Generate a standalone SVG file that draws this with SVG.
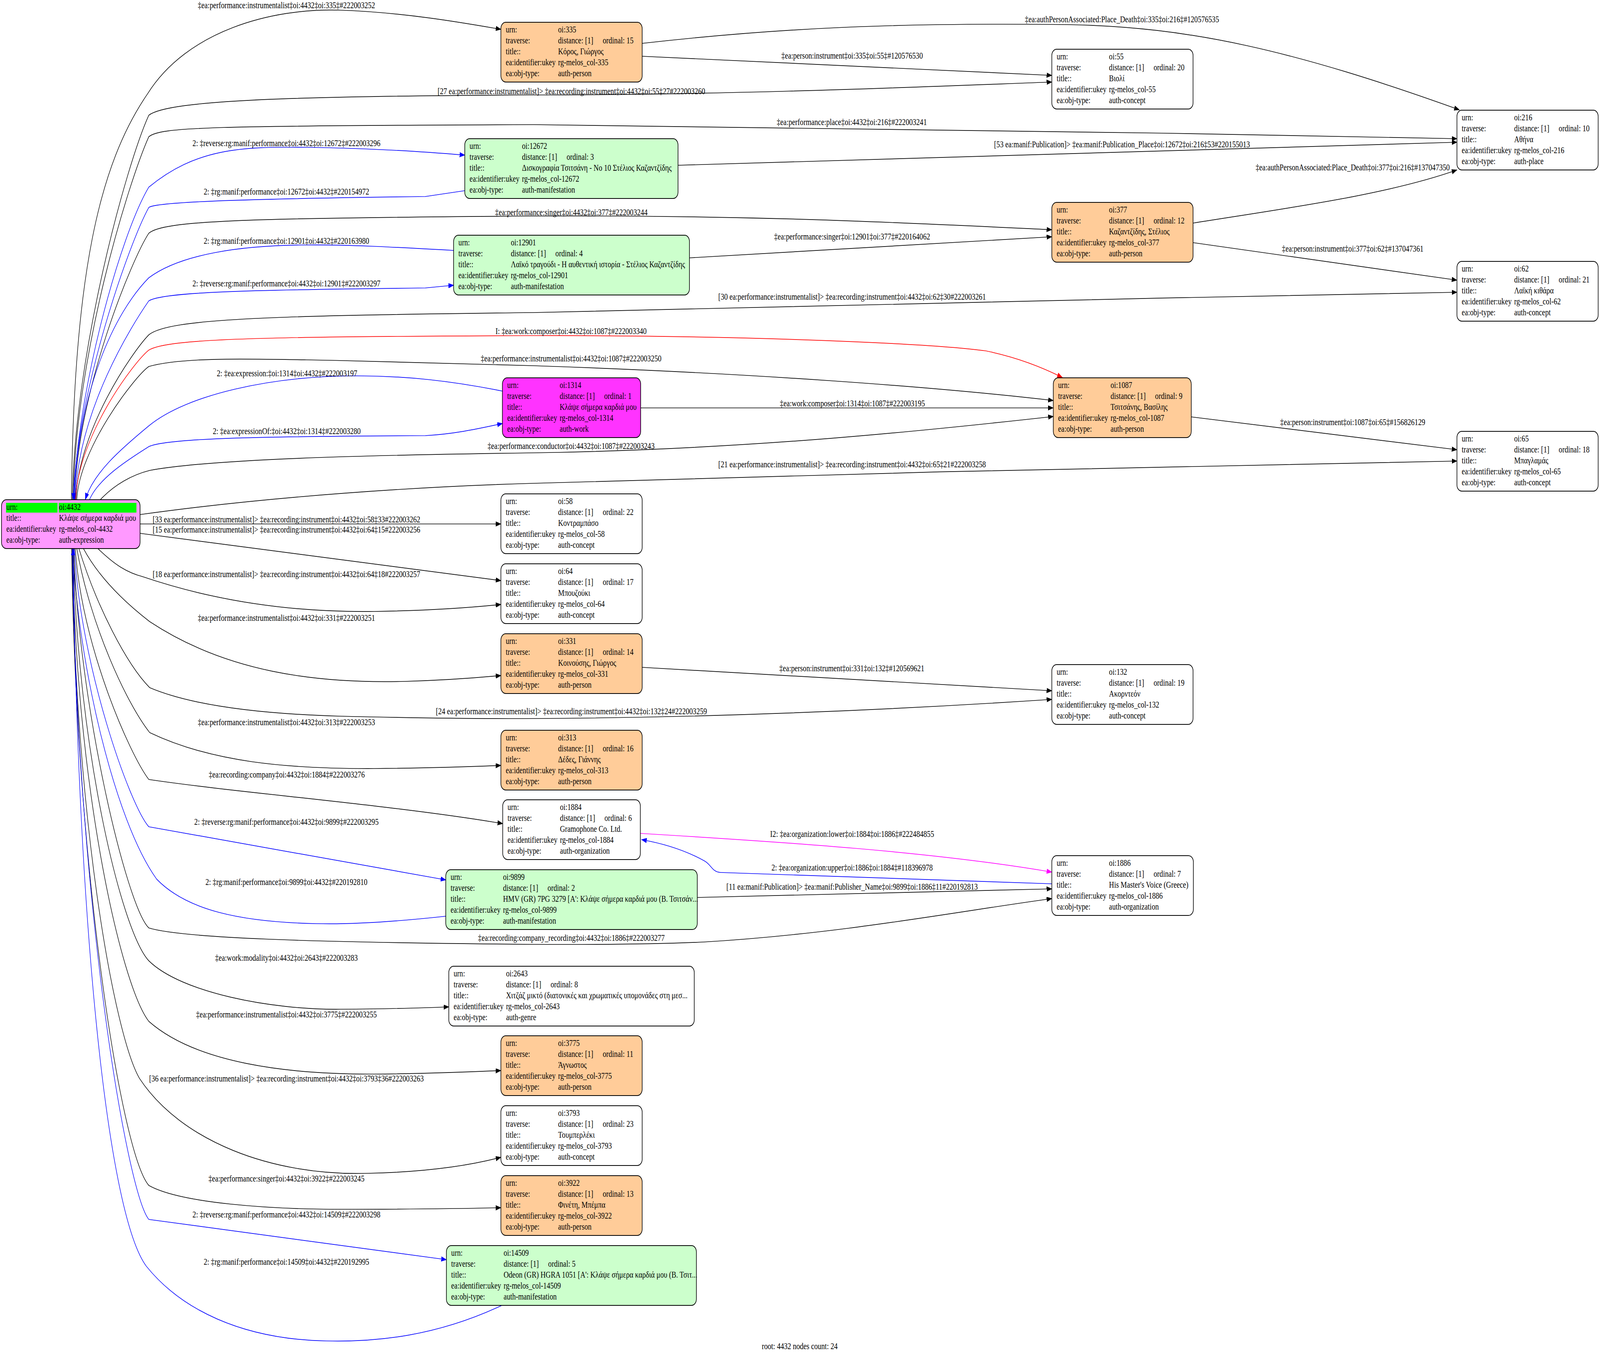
<svg xmlns="http://www.w3.org/2000/svg" width="5312" height="3468" viewBox="0 0 5312 3468" preserveAspectRatio="none" style="width:100vw;height:100vh;display:block">
<style>
text{font-family:"Liberation Serif","Times New Roman",serif;font-size:23.5px;fill:#000}
.lb{text-anchor:middle}
.nd rect.bx{stroke:#000;stroke-width:2}
.pe{fill:#FFCC99}.gr{fill:#CCFFCC}.wh{fill:#FFFFFF}.pk{fill:#FF99FF}.mg{fill:#FF33FF}
#edges path{fill:none;stroke-width:1.7}
.k path{stroke:#000}.b path{stroke:#0000FF}.r path{stroke:#FF0000}.m path{stroke:#FF00FF}
.k path{marker-end:url(#ak)}.b path{marker-end:url(#ab)}.r path{marker-end:url(#ar)}.m path{marker-end:url(#am)}
</style>
<defs>
<marker id="ak" markerUnits="userSpaceOnUse" markerWidth="20" markerHeight="14" refX="17" refY="6" orient="auto"><path d="M0,0 L17,6 L0,12 z" fill="#000" stroke="#000" stroke-width="1"/></marker>
<marker id="ab" markerUnits="userSpaceOnUse" markerWidth="20" markerHeight="14" refX="17" refY="6" orient="auto"><path d="M0,0 L17,6 L0,12 z" fill="#0000FF" stroke="#0000FF" stroke-width="1"/></marker>
<marker id="ar" markerUnits="userSpaceOnUse" markerWidth="20" markerHeight="14" refX="17" refY="6" orient="auto"><path d="M0,0 L17,6 L0,12 z" fill="#FF0000" stroke="#FF0000" stroke-width="1"/></marker>
<marker id="am" markerUnits="userSpaceOnUse" markerWidth="20" markerHeight="14" refX="17" refY="6" orient="auto"><path d="M0,0 L17,6 L0,12 z" fill="#FF00FF" stroke="#FF00FF" stroke-width="1"/></marker>
</defs>
<rect x="0" y="0" width="5312" height="3468" fill="#FFFFFF"/>

<g id="edges">
<g class="k"><path d="M237,1279 C245,700 330,420 490,240 C620,80 900,20 1130,26 C1350,32 1550,60 1663,75"/><text class="lb" x="951" y="21">‡ea:performance:instrumentalist‡oi:4432‡oi:335‡#222003252</text></g>
<g class="k"><path d="M240,1279 C248,900 420,420 494,295 C560,255 1000,246 1771,243 C2450,243 3100,221 3492,210"/><text class="lb" x="1897" y="241">[27 ea:performance:instrumentalist]&gt; ‡ea:recording:instrument‡oi:4432‡oi:55‡27#222003260</text></g>
<g class="k"><path d="M2132,144 L3492,193"/><text class="lb" x="2829" y="150">‡ea:person:instrument‡oi:335‡oi:55‡#120576530</text></g>
<g class="k"><path d="M2132,111 C2600,70 3000,58 3542,63 C3950,68 4300,130 4845,281"/><text class="lb" x="3725" y="57">‡ea:authPersonAssociated:Place_Death‡oi:335‡oi:216‡#120576535</text></g>
<g class="k"><path d="M243,1279 C250,900 430,460 494,350 C530,325 700,322 1771,319 C2600,321 3800,340 4837,355"/><text class="lb" x="2828" y="320">‡ea:performance:place‡oi:4432‡oi:216‡#222003241</text></g>
<g class="b"><path d="M245,1279 C255,1000 400,600 494,479 C650,380 800,375 1017,377 C1250,380 1400,388 1543,397"/><text class="lb" x="951" y="374">2: ‡reverse:rg:manif:performance‡oi:4432‡oi:12672‡#222003296</text></g>
<g class="b"><path d="M1543,488 L1412,503 C900,508 520,515 494,531 C430,620 255,1000 243,1279"/><text class="lb" x="951" y="498">2: ‡rg:manif:performance‡oi:12672‡oi:4432‡#220154972</text></g>
<g class="k"><path d="M2251,423 L4837,364"/><text class="lb" x="3725" y="377">[53 ea:manif:Publication]&gt; ‡ea:manif:Publication_Place‡oi:12672‡oi:216‡53#220155013</text></g>
<g class="k"><path d="M248,1279 C255,1000 440,660 494,597 C540,565 800,558 1771,553 C2500,550 3000,570 3492,588"/><text class="lb" x="1897" y="551">‡ea:performance:singer‡oi:4432‡oi:377‡#222003244</text></g>
<g class="b"><path d="M1506,641 C1300,632 1150,626 1017,627 C800,628 600,650 494,711 C380,800 258,1000 247,1279"/><text class="lb" x="951" y="624">2: ‡rg:manif:performance‡oi:12901‡oi:4432‡#220163980</text></g>
<g class="b"><path d="M250,1279 C258,1050 440,830 494,770 C540,748 800,742 1412,737 L1506,730"/><text class="lb" x="951" y="733">2: ‡reverse:rg:manif:performance‡oi:4432‡oi:12901‡#222003297</text></g>
<g class="k"><path d="M2289,660 L3492,606"/><text class="lb" x="2829" y="613">‡ea:performance:singer‡oi:12901‡oi:377‡#220164062</text></g>
<g class="k"><path d="M3961,571 C4250,535 4600,500 4837,435"/><text class="lb" x="4491" y="436">‡ea:authPersonAssociated:Place_Death‡oi:377‡oi:216‡#137047350</text></g>
<g class="k"><path d="M3961,621 L4837,717"/><text class="lb" x="4491" y="644">‡ea:person:instrument‡oi:377‡oi:62‡#137047361</text></g>
<g class="k"><path d="M252,1279 C260,1100 440,900 494,857 C560,815 900,808 1771,800 C2600,790 3800,760 4837,748"/><text class="lb" x="2829" y="767">[30 ea:performance:instrumentalist]&gt; ‡ea:recording:instrument‡oi:4432‡oi:62‡30#222003261</text></g>
<g class="r"><path d="M251,1279 C258,1120 440,930 494,896 C560,865 900,862 1771,859 C2500,858 3100,880 3273,898 C3380,915 3460,940 3527,966"/><text class="lb" x="1896" y="855">I: ‡ea:work:composer‡oi:4432‡oi:1087‡#222003340</text></g>
<g class="k"><path d="M255,1279 C262,1150 445,965 494,938 C600,915 800,918 1017,921 C1300,925 1600,932 1771,936 C2500,955 3100,990 3497,1025"/><text class="lb" x="1896" y="925">‡ea:performance:instrumentalist‡oi:4432‡oi:1087‡#222003250</text></g>
<g class="b"><path d="M1668,1001 C1500,975 1350,962 1186,962 C900,962 620,1010 494,1090 C400,1150 310,1210 283,1279"/><text class="lb" x="953" y="963">2: ‡ea:expression:‡oi:1314‡oi:4432‡#222003197</text></g>
<g class="b"><path d="M297,1279 C330,1220 440,1170 494,1143 C560,1120 900,1117 1412,1115 C1520,1110 1600,1095 1668,1084"/><text class="lb" x="952" y="1111">2: ‡ea:expressionOf:‡oi:4432‡oi:1314‡#222003280</text></g>
<g class="k"><path d="M2127,1044 L3497,1044"/><text class="lb" x="2830" y="1040">‡ea:work:composer‡oi:1314‡oi:1087‡#222003195</text></g>
<g class="k"><path d="M333,1279 C380,1240 440,1215 497,1204 C700,1175 1200,1165 1771,1159 C2500,1150 3100,1100 3497,1066"/><text class="lb" x="1896" y="1149">‡ea:performance:conductor‡oi:4432‡oi:1087‡#222003243</text></g>
<g class="k"><path d="M3955,1067 L4837,1151"/><text class="lb" x="4491" y="1088">‡ea:person:instrument‡oi:1087‡oi:65‡#156826129</text></g>
<g class="k"><path d="M465,1317 C900,1270 1400,1245 1771,1237 C2800,1215 3800,1190 4837,1180"/><text class="lb" x="2829" y="1196">[21 ea:performance:instrumentalist]&gt; ‡ea:recording:instrument‡oi:4432‡oi:65‡21#222003258</text></g>
<g class="k"><path d="M465,1341 L1663,1341"/><text class="lb" x="951" y="1337">[33 ea:performance:instrumentalist]&gt; ‡ea:recording:instrument‡oi:4432‡oi:58‡33#222003262</text></g>
<g class="k"><path d="M465,1365 L1663,1486"/><text class="lb" x="951" y="1363">[15 ea:performance:instrumentalist]&gt; ‡ea:recording:instrument‡oi:4432‡oi:64‡15#222003256</text></g>
<g class="k"><path d="M325,1404 C380,1445 420,1465 474,1476 C700,1535 950,1568 1242,1565 C1400,1563 1550,1556 1663,1547"/><text class="lb" x="951" y="1477">[18 ea:performance:instrumentalist]&gt; ‡ea:recording:instrument‡oi:4432‡oi:64‡18#222003257</text></g>
<g class="k"><path d="M277,1404 C330,1480 420,1545 497,1591 C750,1720 1050,1750 1344,1744 C1480,1741 1580,1735 1663,1729"/><text class="lb" x="951" y="1589">‡ea:performance:instrumentalist‡oi:4432‡oi:331‡#222003251</text></g>
<g class="k"><path d="M262,1404 C320,1550 420,1700 497,1760 C650,1810 900,1828 1130,1833 C1400,1838 1600,1840 1771,1839 C2500,1836 3100,1810 3492,1790"/><text class="lb" x="1897" y="1828">[24 ea:performance:instrumentalist]&gt; ‡ea:recording:instrument‡oi:4432‡oi:132‡24#222003259</text></g>
<g class="k"><path d="M2132,1708 L3492,1768"/><text class="lb" x="2828" y="1718">‡ea:person:instrument‡oi:331‡oi:132‡#120569621</text></g>
<g class="k"><path d="M255,1404 C300,1600 420,1800 497,1875 C700,1950 950,1968 1242,1967 C1400,1966 1550,1963 1663,1959"/><text class="lb" x="951" y="1856">‡ea:performance:instrumentalist‡oi:4432‡oi:313‡#222003253</text></g>
<g class="k"><path d="M250,1404 C270,1650 430,1930 494,1995 C800,2030 1300,2060 1669,2108"/><text class="lb" x="952" y="1990">‡ea:recording:company‡oi:4432‡oi:1884‡#222003276</text></g>
<g class="m"><path d="M2126,2133 C2600,2155 3100,2180 3492,2232"/><text class="lb" x="2829" y="2142">I2: ‡ea:organization:lower‡oi:1884‡oi:1886‡#222484855</text></g>
<g class="b"><path d="M3492,2262 L2392,2233 C2365,2232 2362,2214 2340,2204 C2280,2178 2210,2160 2130,2149"/><text class="lb" x="2829" y="2228">2: ‡ea:organization:upper‡oi:1886‡oi:1884‡#118396978</text></g>
<g class="b"><path d="M247,1404 C265,1700 430,2060 494,2116 L1480,2252"/><text class="lb" x="951" y="2111">2: ‡reverse:rg:manif:performance‡oi:4432‡oi:9899‡#222003295</text></g>
<g class="b"><path d="M1480,2345 C1300,2360 1150,2366 1050,2364 C800,2360 620,2330 520,2250 C380,2100 260,1700 241,1404"/><text class="lb" x="951" y="2265">2: ‡rg:manif:performance‡oi:9899‡oi:4432‡#220192810</text></g>
<g class="k"><path d="M2315,2297 L3492,2275"/><text class="lb" x="2829" y="2277">[11 ea:manif:Publication]&gt; ‡ea:manif:Publisher_Name‡oi:9899‡oi:1886‡11#220192813</text></g>
<g class="k"><path d="M245,1404 C260,1800 420,2320 494,2375 C600,2400 1000,2412 1770,2417 C2000,2418 2200,2416 2336,2411 C2800,2390 3200,2330 3492,2300"/><text class="lb" x="1897" y="2408">‡ea:recording:company_recording‡oi:4432‡oi:1886‡#222003277</text></g>
<g class="k"><path d="M243,1404 C255,1900 400,2380 494,2459 C600,2540 900,2585 1130,2583 C1300,2582 1400,2580 1490,2577"/><text class="lb" x="951" y="2459">‡ea:work:modality‡oi:4432‡oi:2643‡#222003283</text></g>
<g class="k"><path d="M241,1404 C250,2000 400,2520 494,2614 C650,2720 950,2750 1242,2749 C1420,2748 1550,2744 1663,2740"/><text class="lb" x="951" y="2604">‡ea:performance:instrumentalist‡oi:4432‡oi:3775‡#222003255</text></g>
<g class="k"><path d="M239,1404 C250,2100 380,2650 463,2760 C600,2920 900,3010 1220,3003 C1400,3000 1550,2985 1663,2962"/><text class="lb" x="951" y="2768">[36 ea:performance:instrumentalist]&gt; ‡ea:recording:instrument‡oi:4432‡oi:3793‡36#222003263</text></g>
<g class="k"><path d="M238,1404 C250,2200 400,2950 494,3034 C600,3080 900,3095 1130,3095 C1400,3095 1550,3093 1663,3091"/><text class="lb" x="951" y="3024">‡ea:performance:singer‡oi:4432‡oi:3922‡#222003245</text></g>
<g class="b"><path d="M240,1404 C255,2300 420,3050 494,3121 L1482,3224"/><text class="lb" x="951" y="3116">2: ‡reverse:rg:manif:performance‡oi:4432‡oi:14509‡#222003298</text></g>
<g class="b"><path d="M1669,3340 C1450,3420 1250,3435 1084,3432 C800,3428 600,3350 486,3241 C350,3100 255,2300 243,1404"/><text class="lb" x="951" y="3237">2: ‡rg:manif:performance‡oi:14509‡oi:4432‡#220192995</text></g>
</g>

<g id="node-oi4432" class="nd">
<rect class="bx pk" x="5" y="1279" width="460" height="125" rx="16"/>
<rect x="20" y="1287" width="171" height="25" fill="#00FF00"/>
<rect x="195" y="1287" width="258" height="25" fill="#00FF00"/>
<text x="21" y="1305">urn:</text><text x="196" y="1305">oi:4432</text>
<text x="21" y="1333">title::</text><text x="196" y="1333">Κλάψε σήμερα καρδιά μου</text>
<text x="21" y="1361">ea:identifier:ukey</text><text x="196" y="1361">rg-melos_col-4432</text>
<text x="21" y="1389">ea:obj-type:</text><text x="196" y="1389">auth-expression</text>
</g>

<g id="node-oi335" class="nd" transform="translate(1663,57)">
<rect class="bx pe" x="0" y="0" width="469" height="153" rx="16"/>
<text x="16" y="26">urn:</text><text x="190" y="26">oi:335</text>
<text x="16" y="54">traverse:</text><text x="190" y="54">distance: [1]</text><text x="338" y="54">ordinal: 15</text>
<text x="16" y="82">title::</text><text x="190" y="82">Κόρος, Γιώργος</text>
<text x="16" y="110">ea:identifier:ukey</text><text x="190" y="110">rg-melos_col-335</text>
<text x="16" y="138">ea:obj-type:</text><text x="190" y="138">auth-person</text>
</g>

<g id="node-oi55" class="nd" transform="translate(3492,126)">
<rect class="bx wh" x="0" y="0" width="469" height="153" rx="16"/>
<text x="16" y="26">urn:</text><text x="190" y="26">oi:55</text>
<text x="16" y="54">traverse:</text><text x="190" y="54">distance: [1]</text><text x="338" y="54">ordinal: 20</text>
<text x="16" y="82">title::</text><text x="190" y="82">Βιολί</text>
<text x="16" y="110">ea:identifier:ukey</text><text x="190" y="110">rg-melos_col-55</text>
<text x="16" y="138">ea:obj-type:</text><text x="190" y="138">auth-concept</text>
</g>

<g id="node-oi216" class="nd" transform="translate(4837,282)">
<rect class="bx wh" x="0" y="0" width="469" height="153" rx="16"/>
<text x="16" y="26">urn:</text><text x="190" y="26">oi:216</text>
<text x="16" y="54">traverse:</text><text x="190" y="54">distance: [1]</text><text x="338" y="54">ordinal: 10</text>
<text x="16" y="82">title::</text><text x="190" y="82">Αθήνα</text>
<text x="16" y="110">ea:identifier:ukey</text><text x="190" y="110">rg-melos_col-216</text>
<text x="16" y="138">ea:obj-type:</text><text x="190" y="138">auth-place</text>
</g>

<g id="node-oi12672" class="nd" transform="translate(1543,355)">
<rect class="bx gr" x="0" y="0" width="708" height="153" rx="16"/>
<text x="16" y="26">urn:</text><text x="190" y="26">oi:12672</text>
<text x="16" y="54">traverse:</text><text x="190" y="54">distance: [1]</text><text x="338" y="54">ordinal: 3</text>
<text x="16" y="82">title::</text><text x="190" y="82">Δισκογραφία Τσιτσάνη - No 10 Στέλιος Καζαντζίδης</text>
<text x="16" y="110">ea:identifier:ukey</text><text x="190" y="110">rg-melos_col-12672</text>
<text x="16" y="138">ea:obj-type:</text><text x="190" y="138">auth-manifestation</text>
</g>

<g id="node-oi377" class="nd" transform="translate(3492,518)">
<rect class="bx pe" x="0" y="0" width="469" height="153" rx="16"/>
<text x="16" y="26">urn:</text><text x="190" y="26">oi:377</text>
<text x="16" y="54">traverse:</text><text x="190" y="54">distance: [1]</text><text x="338" y="54">ordinal: 12</text>
<text x="16" y="82">title::</text><text x="190" y="82">Καζαντζίδης, Στέλιος</text>
<text x="16" y="110">ea:identifier:ukey</text><text x="190" y="110">rg-melos_col-377</text>
<text x="16" y="138">ea:obj-type:</text><text x="190" y="138">auth-person</text>
</g>

<g id="node-oi12901" class="nd" transform="translate(1506,602)">
<rect class="bx gr" x="0" y="0" width="783" height="153" rx="16"/>
<text x="16" y="26">urn:</text><text x="190" y="26">oi:12901</text>
<text x="16" y="54">traverse:</text><text x="190" y="54">distance: [1]</text><text x="338" y="54">ordinal: 4</text>
<text x="16" y="82">title::</text><text x="190" y="82">Λαϊκό τραγούδι - Η αυθεντική ιστορία - Στέλιος Καζαντζίδης</text>
<text x="16" y="110">ea:identifier:ukey</text><text x="190" y="110">rg-melos_col-12901</text>
<text x="16" y="138">ea:obj-type:</text><text x="190" y="138">auth-manifestation</text>
</g>

<g id="node-oi62" class="nd" transform="translate(4837,669)">
<rect class="bx wh" x="0" y="0" width="469" height="153" rx="16"/>
<text x="16" y="26">urn:</text><text x="190" y="26">oi:62</text>
<text x="16" y="54">traverse:</text><text x="190" y="54">distance: [1]</text><text x="338" y="54">ordinal: 21</text>
<text x="16" y="82">title::</text><text x="190" y="82">Λαϊκή κιθάρα</text>
<text x="16" y="110">ea:identifier:ukey</text><text x="190" y="110">rg-melos_col-62</text>
<text x="16" y="138">ea:obj-type:</text><text x="190" y="138">auth-concept</text>
</g>

<g id="node-oi1314" class="nd" transform="translate(1668,967)">
<rect class="bx mg" x="0" y="0" width="459" height="153" rx="16"/>
<text x="16" y="26">urn:</text><text x="190" y="26">oi:1314</text>
<text x="16" y="54">traverse:</text><text x="190" y="54">distance: [1]</text><text x="338" y="54">ordinal: 1</text>
<text x="16" y="82">title::</text><text x="190" y="82">Κλάψε σήμερα καρδιά μου</text>
<text x="16" y="110">ea:identifier:ukey</text><text x="190" y="110">rg-melos_col-1314</text>
<text x="16" y="138">ea:obj-type:</text><text x="190" y="138">auth-work</text>
</g>

<g id="node-oi1087" class="nd" transform="translate(3497,967)">
<rect class="bx pe" x="0" y="0" width="458" height="153" rx="16"/>
<text x="16" y="26">urn:</text><text x="190" y="26">oi:1087</text>
<text x="16" y="54">traverse:</text><text x="190" y="54">distance: [1]</text><text x="338" y="54">ordinal: 9</text>
<text x="16" y="82">title::</text><text x="190" y="82">Τσιτσάνης, Βασίλης</text>
<text x="16" y="110">ea:identifier:ukey</text><text x="190" y="110">rg-melos_col-1087</text>
<text x="16" y="138">ea:obj-type:</text><text x="190" y="138">auth-person</text>
</g>

<g id="node-oi65" class="nd" transform="translate(4837,1104)">
<rect class="bx wh" x="0" y="0" width="469" height="153" rx="16"/>
<text x="16" y="26">urn:</text><text x="190" y="26">oi:65</text>
<text x="16" y="54">traverse:</text><text x="190" y="54">distance: [1]</text><text x="338" y="54">ordinal: 18</text>
<text x="16" y="82">title::</text><text x="190" y="82">Μπαγλαμάς</text>
<text x="16" y="110">ea:identifier:ukey</text><text x="190" y="110">rg-melos_col-65</text>
<text x="16" y="138">ea:obj-type:</text><text x="190" y="138">auth-concept</text>
</g>

<g id="node-oi58" class="nd" transform="translate(1663,1264)">
<rect class="bx wh" x="0" y="0" width="469" height="153" rx="16"/>
<text x="16" y="26">urn:</text><text x="190" y="26">oi:58</text>
<text x="16" y="54">traverse:</text><text x="190" y="54">distance: [1]</text><text x="338" y="54">ordinal: 22</text>
<text x="16" y="82">title::</text><text x="190" y="82">Κοντραμπάσο</text>
<text x="16" y="110">ea:identifier:ukey</text><text x="190" y="110">rg-melos_col-58</text>
<text x="16" y="138">ea:obj-type:</text><text x="190" y="138">auth-concept</text>
</g>

<g id="node-oi64" class="nd" transform="translate(1663,1443)">
<rect class="bx wh" x="0" y="0" width="469" height="153" rx="16"/>
<text x="16" y="26">urn:</text><text x="190" y="26">oi:64</text>
<text x="16" y="54">traverse:</text><text x="190" y="54">distance: [1]</text><text x="338" y="54">ordinal: 17</text>
<text x="16" y="82">title::</text><text x="190" y="82">Μπουζούκι</text>
<text x="16" y="110">ea:identifier:ukey</text><text x="190" y="110">rg-melos_col-64</text>
<text x="16" y="138">ea:obj-type:</text><text x="190" y="138">auth-concept</text>
</g>

<g id="node-oi331" class="nd" transform="translate(1663,1622)">
<rect class="bx pe" x="0" y="0" width="469" height="153" rx="16"/>
<text x="16" y="26">urn:</text><text x="190" y="26">oi:331</text>
<text x="16" y="54">traverse:</text><text x="190" y="54">distance: [1]</text><text x="338" y="54">ordinal: 14</text>
<text x="16" y="82">title::</text><text x="190" y="82">Κοινούσης, Γιώργος</text>
<text x="16" y="110">ea:identifier:ukey</text><text x="190" y="110">rg-melos_col-331</text>
<text x="16" y="138">ea:obj-type:</text><text x="190" y="138">auth-person</text>
</g>

<g id="node-oi132" class="nd" transform="translate(3492,1701)">
<rect class="bx wh" x="0" y="0" width="469" height="153" rx="16"/>
<text x="16" y="26">urn:</text><text x="190" y="26">oi:132</text>
<text x="16" y="54">traverse:</text><text x="190" y="54">distance: [1]</text><text x="338" y="54">ordinal: 19</text>
<text x="16" y="82">title::</text><text x="190" y="82">Ακορντεόν</text>
<text x="16" y="110">ea:identifier:ukey</text><text x="190" y="110">rg-melos_col-132</text>
<text x="16" y="138">ea:obj-type:</text><text x="190" y="138">auth-concept</text>
</g>

<g id="node-oi313" class="nd" transform="translate(1663,1869)">
<rect class="bx pe" x="0" y="0" width="469" height="153" rx="16"/>
<text x="16" y="26">urn:</text><text x="190" y="26">oi:313</text>
<text x="16" y="54">traverse:</text><text x="190" y="54">distance: [1]</text><text x="338" y="54">ordinal: 16</text>
<text x="16" y="82">title::</text><text x="190" y="82">Δέδες, Γιάννης</text>
<text x="16" y="110">ea:identifier:ukey</text><text x="190" y="110">rg-melos_col-313</text>
<text x="16" y="138">ea:obj-type:</text><text x="190" y="138">auth-person</text>
</g>

<g id="node-oi1884" class="nd" transform="translate(1669,2047)">
<rect class="bx wh" x="0" y="0" width="457" height="153" rx="16"/>
<text x="16" y="26">urn:</text><text x="190" y="26">oi:1884</text>
<text x="16" y="54">traverse:</text><text x="190" y="54">distance: [1]</text><text x="338" y="54">ordinal: 6</text>
<text x="16" y="82">title::</text><text x="190" y="82">Gramophone Co. Ltd.</text>
<text x="16" y="110">ea:identifier:ukey</text><text x="190" y="110">rg-melos_col-1884</text>
<text x="16" y="138">ea:obj-type:</text><text x="190" y="138">auth-organization</text>
</g>

<g id="node-oi1886" class="nd" transform="translate(3492,2190)">
<rect class="bx wh" x="0" y="0" width="470" height="153" rx="16"/>
<text x="16" y="26">urn:</text><text x="190" y="26">oi:1886</text>
<text x="16" y="54">traverse:</text><text x="190" y="54">distance: [1]</text><text x="338" y="54">ordinal: 7</text>
<text x="16" y="82">title::</text><text x="190" y="82">His Master's Voice (Greece)</text>
<text x="16" y="110">ea:identifier:ukey</text><text x="190" y="110">rg-melos_col-1886</text>
<text x="16" y="138">ea:obj-type:</text><text x="190" y="138">auth-organization</text>
</g>

<g id="node-oi9899" class="nd" transform="translate(1480,2226)">
<rect class="bx gr" x="0" y="0" width="835" height="153" rx="16"/>
<text x="16" y="26">urn:</text><text x="190" y="26">oi:9899</text>
<text x="16" y="54">traverse:</text><text x="190" y="54">distance: [1]</text><text x="338" y="54">ordinal: 2</text>
<text x="16" y="82">title::</text><text x="190" y="82">HMV (GR) 7PG 3279 [Α': Κλάψε σήμερα καρδιά μου (Β. Τσιτσάν...</text>
<text x="16" y="110">ea:identifier:ukey</text><text x="190" y="110">rg-melos_col-9899</text>
<text x="16" y="138">ea:obj-type:</text><text x="190" y="138">auth-manifestation</text>
</g>

<g id="node-oi2643" class="nd" transform="translate(1490,2473)">
<rect class="bx wh" x="0" y="0" width="815" height="153" rx="16"/>
<text x="16" y="26">urn:</text><text x="190" y="26">oi:2643</text>
<text x="16" y="54">traverse:</text><text x="190" y="54">distance: [1]</text><text x="338" y="54">ordinal: 8</text>
<text x="16" y="82">title::</text><text x="190" y="82">Χιτζάζ μικτό (διατονικές και χρωματικές υπομονάδες στη μεσ...</text>
<text x="16" y="110">ea:identifier:ukey</text><text x="190" y="110">rg-melos_col-2643</text>
<text x="16" y="138">ea:obj-type:</text><text x="190" y="138">auth-genre</text>
</g>

<g id="node-oi3775" class="nd" transform="translate(1663,2651)">
<rect class="bx pe" x="0" y="0" width="469" height="153" rx="16"/>
<text x="16" y="26">urn:</text><text x="190" y="26">oi:3775</text>
<text x="16" y="54">traverse:</text><text x="190" y="54">distance: [1]</text><text x="338" y="54">ordinal: 11</text>
<text x="16" y="82">title::</text><text x="190" y="82">Άγνωστος</text>
<text x="16" y="110">ea:identifier:ukey</text><text x="190" y="110">rg-melos_col-3775</text>
<text x="16" y="138">ea:obj-type:</text><text x="190" y="138">auth-person</text>
</g>

<g id="node-oi3793" class="nd" transform="translate(1663,2830)">
<rect class="bx wh" x="0" y="0" width="469" height="153" rx="16"/>
<text x="16" y="26">urn:</text><text x="190" y="26">oi:3793</text>
<text x="16" y="54">traverse:</text><text x="190" y="54">distance: [1]</text><text x="338" y="54">ordinal: 23</text>
<text x="16" y="82">title::</text><text x="190" y="82">Τουμπερλέκι</text>
<text x="16" y="110">ea:identifier:ukey</text><text x="190" y="110">rg-melos_col-3793</text>
<text x="16" y="138">ea:obj-type:</text><text x="190" y="138">auth-concept</text>
</g>

<g id="node-oi3922" class="nd" transform="translate(1663,3009)">
<rect class="bx pe" x="0" y="0" width="469" height="153" rx="16"/>
<text x="16" y="26">urn:</text><text x="190" y="26">oi:3922</text>
<text x="16" y="54">traverse:</text><text x="190" y="54">distance: [1]</text><text x="338" y="54">ordinal: 13</text>
<text x="16" y="82">title::</text><text x="190" y="82">Φινέτη, Μπέμπα</text>
<text x="16" y="110">ea:identifier:ukey</text><text x="190" y="110">rg-melos_col-3922</text>
<text x="16" y="138">ea:obj-type:</text><text x="190" y="138">auth-person</text>
</g>

<g id="node-oi14509" class="nd" transform="translate(1482,3188)">
<rect class="bx gr" x="0" y="0" width="830" height="153" rx="16"/>
<text x="16" y="26">urn:</text><text x="190" y="26">oi:14509</text>
<text x="16" y="54">traverse:</text><text x="190" y="54">distance: [1]</text><text x="338" y="54">ordinal: 5</text>
<text x="16" y="82">title::</text><text x="190" y="82">Odeon (GR) HGRA 1051 [Α': Κλάψε σήμερα καρδιά μου (Β. Τσιτ...</text>
<text x="16" y="110">ea:identifier:ukey</text><text x="190" y="110">rg-melos_col-14509</text>
<text x="16" y="138">ea:obj-type:</text><text x="190" y="138">auth-manifestation</text>
</g>

<text id="caption" class="lb" x="2655" y="3453">root: 4432 nodes count: 24</text>
</svg>
